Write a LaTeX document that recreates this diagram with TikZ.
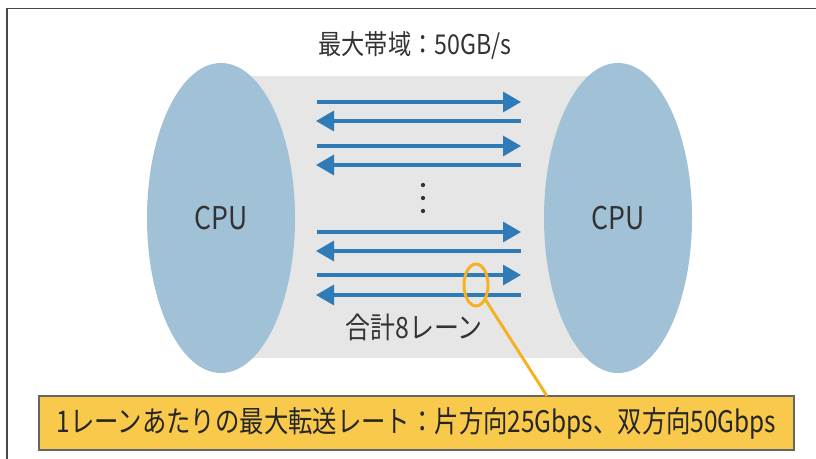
\documentclass[tikz,border=0pt]{standalone}
\usepackage{fontspec}
\setmainfont{Noto Sans CJK JP}
\newfontfamily\condfont[FakeStretch=0.85]{Noto Sans CJK JP}
\newfontfamily\notefont[FakeStretch=0.82]{Noto Sans CJK JP}
\usetikzlibrary{arrows.meta,shapes.geometric}
\definecolor{cpublue}{HTML}{A1C1D7}
\definecolor{lanegray}{HTML}{E6E6E6}
\definecolor{arrowblue}{HTML}{2E7BB8}
\definecolor{hlorange}{HTML}{F5B120}
\definecolor{noteyellow}{HTML}{F8C94B}
\definecolor{txt}{HTML}{333333}
\definecolor{framegray}{HTML}{4A4A44}
\tikzset{
  cpu/.style={ellipse, fill=cpublue, inner sep=0pt, minimum width=148*0.75pt, minimum height=310*0.75pt, text=txt, font=\condfont\fontsize{23.5}{26}\selectfont},
  lane/.style={draw=arrowblue, line width=2.4pt, -{Triangle[length=13.5pt,width=15pt]}},
  dotmark/.style={circle, fill=txt, inner sep=0pt, minimum size=3.2pt},
  note/.style={draw=gray!80!black, line width=0.9pt, fill=noteyellow, minimum width=755*0.75pt, minimum height=54*0.75pt, inner sep=0pt, text=black!85, font=\notefont\fontsize{22.3}{24}\selectfont},
  hl/.style={draw=hlorange, line width=2.2pt},
  lbl/.style={text=txt, inner sep=0pt}
}
\begin{document}
\begin{tikzpicture}[x=0.75pt, y=-0.75pt]
\useasboundingbox (0,0) rectangle (816,459);
% frame
\draw[framegray, line width=1.3pt] (7,459) -- (7,8.5) -- (816,8.5);
% lane background
\fill[lanegray] (221,76) rectangle (618,358);
% CPUs
\node[cpu] (cpuL) at (221,218) {CPU};
\node[cpu] (cpuR) at (618,218) {CPU};
% title
\node[lbl, font=\condfont\fontsize{20.5}{24}\selectfont] (title) at (415,45) {最大帯域：50GB/s};
% lanes
\foreach \y/\n in {102/a,146/b,232/c,275/d}{
  \coordinate (s\n) at (317,\y);
  \coordinate (e\n) at (521,\y);
  \draw[lane] (s\n) -- (e\n);
}
\foreach \y/\n in {121/a,165/b,251/c,295/d}{
  \coordinate (rs\n) at (521,\y);
  \coordinate (re\n) at (316,\y);
  \draw[lane] (rs\n) -- (re\n);
}
% dots
\node[dotmark] (d1) at (423,185) {};
\node[dotmark] (d2) at (423,198) {};
\node[dotmark] (d3) at (423,211) {};
% lane count
\node[lbl, font=\condfont\fontsize{22}{24}\selectfont] (count) at (414,327) {合計8レーン};
% note box
\node[note] (note) at (416.5,423) {1レーンあたりの最大転送レート：片方向25Gbps、双方向50Gbps};
% highlight
\node[ellipse, hl, minimum width=24*0.75pt, minimum height=42*0.75pt, inner sep=0pt] (oval) at (476,285) {};
\coordinate (lead) at (547,396);
\draw[hl] (oval) -- (lead);
\end{tikzpicture}
\end{document}
